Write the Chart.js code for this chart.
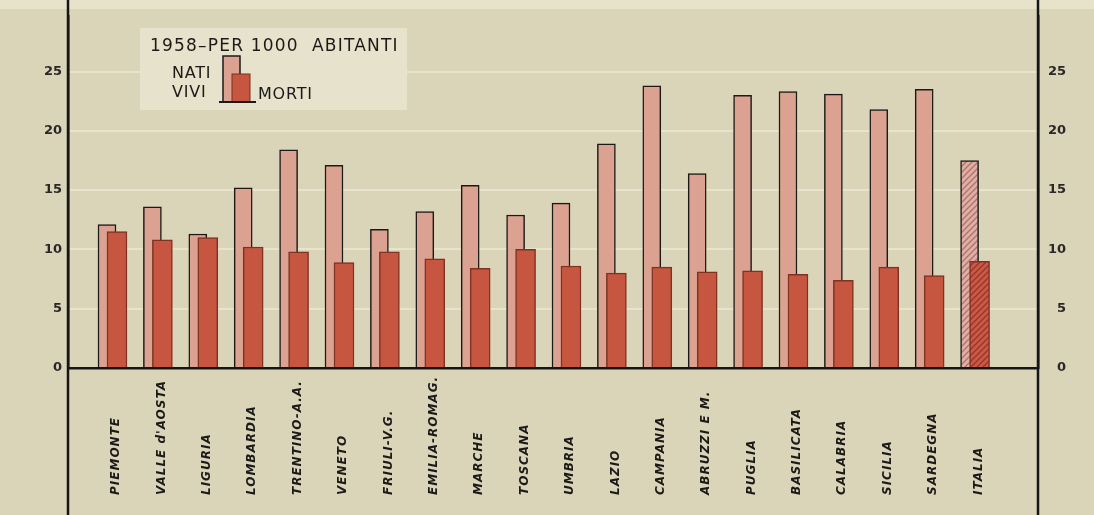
<!DOCTYPE html>
<html>
<head>
<meta charset="utf-8">
<script src="https://cdn.jsdelivr.net/npm/chart.js@4.4.1/dist/chart.umd.min.js"></script>
<style>
html,body{margin:0;padding:0;background:#dad4b8;overflow:hidden;}
#wrap{width:1094px;height:515px;position:relative;}
canvas{display:block;}
</style>
</head>
<body>
<div id="wrap"><canvas id="c" width="1094" height="515"></canvas></div>
<script>
// ---- data ----
const categories = ['PIEMONTE', "VALLE d'AOSTA", 'LIGURIA', 'LOMBARDIA', 'TRENTINO-A.A.', 'VENETO',
  'FRIULI-V.G.', 'EMILIA-ROMAG.', 'MARCHE', 'TOSCANA', 'UMBRIA', 'LAZIO', 'CAMPANIA', 'ABRUZZI E M.',
  'PUGLIA', 'BASILICATA', 'CALABRIA', 'SICILIA', 'SARDEGNA', 'ITALIA'];
const natiVivi = [12.1, 13.6, 11.3, 15.2, 18.4, 17.1, 11.7, 13.2, 15.4, 12.9, 13.9, 18.9, 23.8, 16.4, 23.0, 23.3, 23.1, 21.8, 23.5, 17.5];
const morti    = [11.5, 10.8, 11.0, 10.2, 9.8, 8.9, 9.8, 9.2, 8.4, 10.0, 8.6, 8.0, 8.5, 8.1, 8.2, 7.9, 7.4, 8.5, 7.8, 9.0];
const yTickMax = 25;
const yTickStep = 5;
const legendTitle = '1958–PER 1000  ABITANTI';
const legendNati = ['NATI', 'VIVI'];
const legendMorti = 'MORTI';
const totalLabel = 'ITALIA';

// ---- styles ----
const NATI_COLOR = '#dca291';
const MORTI_COLOR = '#c65640';
const INK = '#1c1a18';
const totalIndex = categories.indexOf(totalLabel);

function hatch(base, line) {
  const c = document.createElement('canvas');
  c.width = 6; c.height = 6;
  const g = c.getContext('2d');
  g.fillStyle = base; g.fillRect(0, 0, 6, 6);
  g.strokeStyle = line; g.lineWidth = 1.3;
  g.beginPath();
  g.moveTo(0, 6); g.lineTo(6, 0);
  g.moveTo(-1, 1); g.lineTo(1, -1);
  g.moveTo(5, 7); g.lineTo(7, 5);
  g.stroke();
  return g.createPattern(c, 'repeat');
}
const ctx0 = document.getElementById('c').getContext('2d');
const natiHatch = hatch('#ddb0a6', '#b5706a');
const mortiHatch = hatch('#c95a48', '#9a3428');

const natiData = natiVivi.map((v, i) => ({x: i, y: v}));
const mortiData = morti.map((v, i) => ({x: i, y: v}));

const decor = {
  id: 'decor',
  beforeDraw(chart) {
    const {ctx, width, height} = chart;
    ctx.save();
    ctx.fillStyle = '#dad4b8';
    ctx.fillRect(0, 0, width, height);
    ctx.fillStyle = 'rgba(240,236,214,0.6)';
    ctx.fillRect(0, 0, width, 9);
    ctx.restore();
  },
  afterDraw(chart) {
    const {ctx, chartArea, height} = chart;
    ctx.save();
    // axis lines extended over full height
    ctx.strokeStyle = '#151515';
    ctx.lineWidth = 2.5;
    ctx.beginPath();
    ctx.moveTo(chartArea.left, 0); ctx.lineTo(chartArea.left, height);
    ctx.moveTo(chartArea.right, 0); ctx.lineTo(chartArea.right, height);
    ctx.stroke();

    // category labels
    const xs = chart.scales.xm;
    ctx.font = 'italic bold 12px "DejaVu Sans"';
    ctx.letterSpacing = '1px';
    ctx.fillStyle = INK;
    ctx.textAlign = 'left';
    ctx.textBaseline = 'middle';
    categories.forEach((c, i) => {
      const x = xs.getPixelForValue(i) - 1;
      ctx.save();
      ctx.translate(x, 495);
      ctx.rotate(-Math.PI / 2);
      ctx.fillText(c, 0, 0);
      ctx.restore();
    });

    // legend
    ctx.letterSpacing = '0px';
    ctx.fillStyle = '#e6e2cc';
    ctx.fillRect(140, 28, 267, 82);
    ctx.fillStyle = INK;
    ctx.font = '17px "DejaVu Sans"';
    ctx.letterSpacing = '1.2px';
    ctx.textBaseline = 'alphabetic';
    ctx.fillText(legendTitle, 150, 51);
    ctx.font = '16px "DejaVu Sans"';
    ctx.letterSpacing = '0.8px';
    ctx.fillText(legendNati[0], 172, 78);
    ctx.fillText(legendNati[1], 172, 97);
    ctx.fillText(legendMorti, 258, 99);
    // legend swatches
    ctx.fillStyle = NATI_COLOR;
    ctx.fillRect(223, 56, 17, 46);
    ctx.strokeStyle = INK; ctx.lineWidth = 1.5;
    ctx.beginPath();
    ctx.moveTo(223, 102); ctx.lineTo(223, 56); ctx.lineTo(240, 56); ctx.lineTo(240, 75);
    ctx.stroke();
    ctx.fillStyle = MORTI_COLOR;
    ctx.fillRect(232, 74, 18, 28);
    ctx.strokeStyle = '#7a2e1e'; ctx.lineWidth = 1;
    ctx.strokeRect(232, 74, 18, 28);
    ctx.strokeStyle = INK; ctx.lineWidth = 2;
    ctx.beginPath(); ctx.moveTo(219, 102); ctx.lineTo(256, 102); ctx.stroke();
    ctx.restore();
  }
};

const yCommon = {
  min: 0,
  max: 29.7,
  ticks: {stepSize: yTickStep, color: '#2a2826', font: {family: 'DejaVu Sans', weight: 'bold', size: 13}},
  afterBuildTicks: s => { s.ticks = s.ticks.filter(t => t.value <= yTickMax); },
  border: {display: true, color: '#151515', width: 2.5}
};

new Chart(ctx0, {
  type: 'bar',
  data: {
    datasets: [
      {
        label: 'MORTI',
        data: mortiData,
        xAxisID: 'xm',
        order: 0,
        grouped: false,
        barThickness: 20,
        backgroundColor: c => c.dataIndex === totalIndex ? mortiHatch : MORTI_COLOR,
        borderColor: '#7e3322',
        borderWidth: {top: 1.5, left: 1.5, right: 1.5, bottom: 0}
      },
      {
        label: 'NATI VIVI',
        data: natiData,
        xAxisID: 'x',
        order: 1,
        grouped: false,
        barThickness: 18,
        backgroundColor: c => c.dataIndex === totalIndex ? natiHatch : NATI_COLOR,
        borderColor: INK,
        borderWidth: {top: 1.5, left: 1.5, right: 1.5, bottom: 0}
      }
    ]
  },
  options: {
    responsive: false,
    animation: false,
    devicePixelRatio: 1,
    layout: {padding: {left: 0, right: 28, top: 0, bottom: 147}},
    plugins: {legend: {display: false}, tooltip: {enabled: false}},
    scales: {
      x: {
        type: 'linear', min: -0.859, max: 20.507, offset: false,
        ticks: {display: false},
        grid: {display: false, drawTicks: false},
        border: {display: true, color: '#151515', width: 2.5}
      },
      xm: {
        type: 'linear', min: -1.079, max: 20.287, offset: false, display: false
      },
      y: Object.assign({}, yCommon, {
        position: 'left',
        ticks: Object.assign({}, yCommon.ticks, {padding: 6}),
        grid: {color: 'rgba(242,238,222,0.55)', lineWidth: 2, drawTicks: false},
        afterFit: s => { s.width = 68; }
      }),
      y2: Object.assign({}, yCommon, {
        position: 'right',
        ticks: Object.assign({}, yCommon.ticks, {padding: 8, crossAlign: 'far'}),
        grid: {display: false, drawTicks: false},
        afterFit: s => { s.width = 28; }
      })
    }
  },
  plugins: [decor]
});
</script>
</body>
</html>
